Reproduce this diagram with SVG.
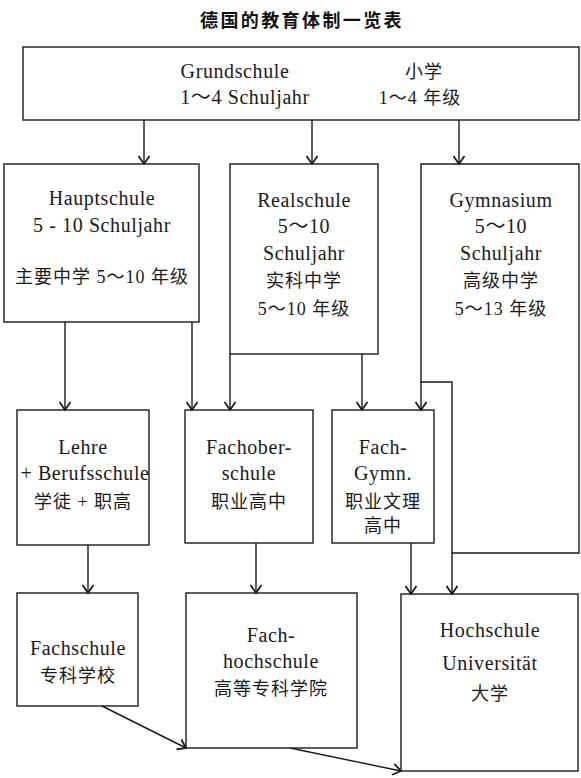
<svg xmlns="http://www.w3.org/2000/svg" width="581" height="778" viewBox="0 0 581 778">
<style>
.box{fill:#fff;stroke:#1a1a1a;stroke-width:1.4}
.t{font-size:20px;fill:#1a1a1a;text-anchor:middle;letter-spacing:0.6px}
.c{font-size:18px;fill:#1a1a1a;text-anchor:middle;letter-spacing:1px}
.title{font-size:18px;font-weight:bold;fill:#111;text-anchor:middle;letter-spacing:2.4px}
.ln{fill:none;stroke:#1a1a1a;stroke-width:1.4;marker-end:url(#ah)}
</style>
<defs>
<marker id="ah" markerUnits="userSpaceOnUse" viewBox="-9 -7 11 14" refX="0" refY="0" markerWidth="11" markerHeight="14" orient="auto">
<path d="M-8,-5.5 L0,0 L-8,5.5" fill="none" stroke="#1a1a1a" stroke-width="1.8"/>
</marker>
</defs>
<rect width="581" height="778" fill="#fff"/>
<text class="title" x="302" y="27" style="font-family:'Noto Sans CJK SC',sans-serif">德国的教育体制一览表</text>

<g id="grundschule">
<rect class="box" x="23" y="47" width="556" height="73"/>
<text class="t" x="235" y="78" style="font-family:'Liberation Serif',serif">Grundschule</text>
<text class="t" x="245" y="104" style="font-family:'Liberation Serif','Noto Sans CJK SC',serif">1～4 Schuljahr</text>
<text class="c" x="424" y="78" style="font-family:'Liberation Serif','Noto Sans CJK SC',serif">小学</text>
<text class="c" x="420" y="104" style="font-family:'Liberation Serif','Noto Sans CJK SC',serif">1～4 年级</text>
</g>

<g id="hauptschule">
<rect class="box" x="4" y="164" width="195" height="158"/>
<text class="t" x="102" y="205" style="font-family:'Liberation Serif',serif">Hauptschule</text>
<text class="t" x="102" y="232" style="font-family:'Liberation Serif',serif">5 - 10 Schuljahr</text>
<text class="c" x="102" y="283" style="font-family:'Liberation Serif','Noto Sans CJK SC',serif">主要中学 5～10 年级</text>
</g>

<g id="realschule">
<rect class="box" x="230" y="164" width="148" height="190"/>
<text class="t" x="304" y="207" style="font-family:'Liberation Serif',serif">Realschule</text>
<text class="t" x="304" y="233" style="font-family:'Liberation Serif','Noto Sans CJK SC',serif">5～10</text>
<text class="t" x="304" y="260" style="font-family:'Liberation Serif',serif">Schuljahr</text>
<text class="c" x="304" y="287" style="font-family:'Liberation Serif','Noto Sans CJK SC',serif">实科中学</text>
<text class="c" x="304" y="315" style="font-family:'Liberation Serif','Noto Sans CJK SC',serif">5～10 年级</text>
</g>

<g id="gymnasium">
<path class="box" d="M421,164 H579 V553 H452 V382 H421 Z"/>
<text class="t" x="501" y="207" style="font-family:'Liberation Serif',serif">Gymnasium</text>
<text class="t" x="501" y="233" style="font-family:'Liberation Serif','Noto Sans CJK SC',serif">5～10</text>
<text class="t" x="501" y="260" style="font-family:'Liberation Serif',serif">Schuljahr</text>
<text class="c" x="501" y="287" style="font-family:'Liberation Serif','Noto Sans CJK SC',serif">高级中学</text>
<text class="c" x="501" y="315" style="font-family:'Liberation Serif','Noto Sans CJK SC',serif">5～13 年级</text>
</g>

<g id="lehre">
<rect class="box" x="17" y="410" width="132" height="135"/>
<text class="t" x="83" y="454" style="font-family:'Liberation Serif',serif">Lehre</text>
<text class="t" x="85" y="480" style="font-family:'Liberation Serif',serif">+ Berufsschule</text>
<text class="c" x="83" y="508" style="font-family:'Liberation Serif','Noto Sans CJK SC',serif">学徒 + 职高</text>
</g>

<g id="fachoberschule">
<rect class="box" x="185" y="410" width="128" height="133"/>
<text class="t" x="249" y="454" style="font-family:'Liberation Serif',serif">Fachober-</text>
<text class="t" x="249" y="480" style="font-family:'Liberation Serif',serif">schule</text>
<text class="c" x="249" y="508" style="font-family:'Liberation Serif','Noto Sans CJK SC',serif">职业高中</text>
</g>

<g id="fachgymn">
<rect class="box" x="332" y="410" width="102" height="133"/>
<text class="t" x="383" y="454" style="font-family:'Liberation Serif',serif">Fach-</text>
<text class="t" x="383" y="480" style="font-family:'Liberation Serif',serif">Gymn.</text>
<text class="c" x="383" y="508" style="font-family:'Liberation Serif','Noto Sans CJK SC',serif">职业文理</text>
<text class="c" x="383" y="532" style="font-family:'Liberation Serif','Noto Sans CJK SC',serif">高中</text>
</g>

<g id="fachschule">
<rect class="box" x="17" y="593" width="121" height="113"/>
<text class="t" x="78" y="655" style="font-family:'Liberation Serif',serif">Fachschule</text>
<text class="c" x="78" y="682" style="font-family:'Liberation Serif','Noto Sans CJK SC',serif">专科学校</text>
</g>

<g id="fachhochschule">
<rect class="box" x="186" y="593" width="171" height="155"/>
<text class="t" x="271" y="642" style="font-family:'Liberation Serif',serif">Fach-</text>
<text class="t" x="271" y="668" style="font-family:'Liberation Serif',serif">hochschule</text>
<text class="c" x="271" y="695" style="font-family:'Liberation Serif','Noto Sans CJK SC',serif">高等专科学院</text>
</g>

<g id="hochschule">
<rect class="box" x="401" y="594" width="177" height="177"/>
<text class="t" x="490" y="637" style="font-family:'Liberation Serif',serif">Hochschule</text>
<text class="t" x="490" y="670" style="font-family:'Liberation Serif',serif">Universität</text>
<text class="c" x="490" y="700" style="font-family:'Liberation Serif','Noto Sans CJK SC',serif">大学</text>
</g>

<g id="connectors">
<path class="ln" d="M144,120 V164"/>
<path class="ln" d="M312,120 V164"/>
<path class="ln" d="M459,120 V164"/>
<path class="ln" d="M65,322 V410"/>
<path class="ln" d="M192,322 V410"/>
<path class="ln" d="M230,354 V410"/>
<path class="ln" d="M362,354 V410"/>
<path class="ln" d="M421,382 V410"/>
<path class="ln" d="M88,545 V593"/>
<path class="ln" d="M256,543 V593"/>
<path class="ln" d="M411,543 V594"/>
<path class="ln" d="M452,553 V594"/>
<path class="ln" d="M102,706 L186,748"/>
<path class="ln" d="M290,748 L401,771"/>
</g>
</svg>
